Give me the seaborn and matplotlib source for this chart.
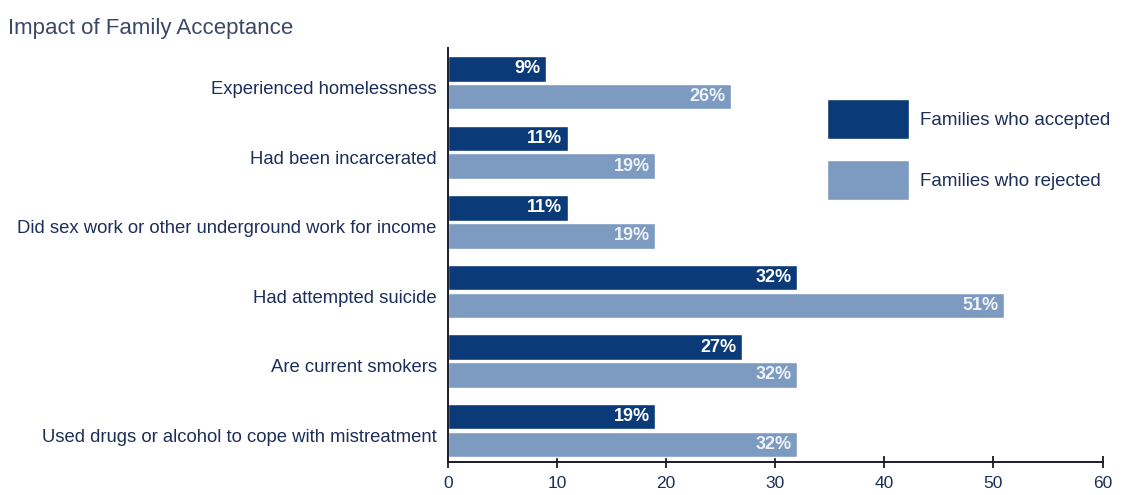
import matplotlib
matplotlib.use("Agg")
import matplotlib.pyplot as plt
import matplotlib.transforms as mtransforms
import seaborn as sns
import pandas as pd

categories = [
    "Experienced homelessness",
    "Had been incarcerated",
    "Did sex work or other underground work for income",
    "Had attempted suicide",
    "Are current smokers",
    "Used drugs or alcohol to cope with mistreatment",
]
accepted = [9, 11, 11, 32, 27, 19]
rejected = [26, 19, 19, 51, 32, 32]
series_names = ["Families who accepted", "Families who rejected"]
x_ticks = [0, 10, 20, 30, 40, 50, 60]

df = pd.DataFrame({
    "category": categories * 2,
    "value": accepted + rejected,
    "group": [series_names[0]] * len(categories) + [series_names[1]] * len(categories),
})

sns.set_theme(style="white")
plt.rcParams["font.family"] = ["Liberation Sans", "DejaVu Sans"]

dark = "#0b3a78"
light = "#7d9bc1"
text_col = "#1c2e5a"

fig = plt.figure(figsize=(11.25, 4.95), dpi=100)
ax = fig.add_axes([0.398, 0.067, 0.582, 0.836])

sns.barplot(data=df, y="category", x="value", hue="group", orient="h",
            palette=[dark, light], width=0.8, gap=0.08, saturation=1,
            ax=ax, legend=True)

ax.set_xlim(0, 60)
ax.set_ylim(5.45, -0.5)
ax.set_xticks(x_ticks)
ax.set_xticklabels([str(t) for t in x_ticks], color=text_col, fontsize=12.5)
ax.set_xlabel("")
ax.set_ylabel("")
ax.tick_params(axis="x", bottom=True, direction="inout", length=9, width=1.3,
               color="#1a1a2a", pad=6)
ax.tick_params(axis="y", left=False, length=0, pad=8)
offset = mtransforms.ScaledTranslation(0, -0.05, fig.dpi_scale_trans)
for lab in ax.get_yticklabels():
    lab.set_color(text_col)
    lab.set_fontsize(13.3)
    lab.set_transform(lab.get_transform() + offset)

for s in ["top", "right"]:
    ax.spines[s].set_visible(False)
for s in ["left", "bottom"]:
    ax.spines[s].set_color("#1a1a2a")
    ax.spines[s].set_linewidth(1.4)

label_colors = ["white", "#eef2f8"]
for cont, col in zip(ax.containers, label_colors):
    anns = ax.bar_label(cont, labels=[f"{v:.0f}%" for v in cont.datavalues],
                        padding=-4, color=col, fontsize=13, fontweight="bold")
    for a in anns:
        a.set_ha("right")

handles, labels = ax.get_legend_handles_labels()
ax.legend(handles, labels, loc="upper left", bbox_to_anchor=(0.727, 0.818),
          bbox_transform=fig.transFigure, frameon=False, fontsize=13.5,
          handlelength=4.37, handleheight=2.9, labelspacing=1.1,
          handletextpad=0.55, borderpad=0, labelcolor=text_col)

fig.text(0.007, 0.943, "Impact of Family Acceptance", fontsize=16,
         color="#3a4868", ha="left", va="center")

fig.savefig("out.png", dpi=100)
